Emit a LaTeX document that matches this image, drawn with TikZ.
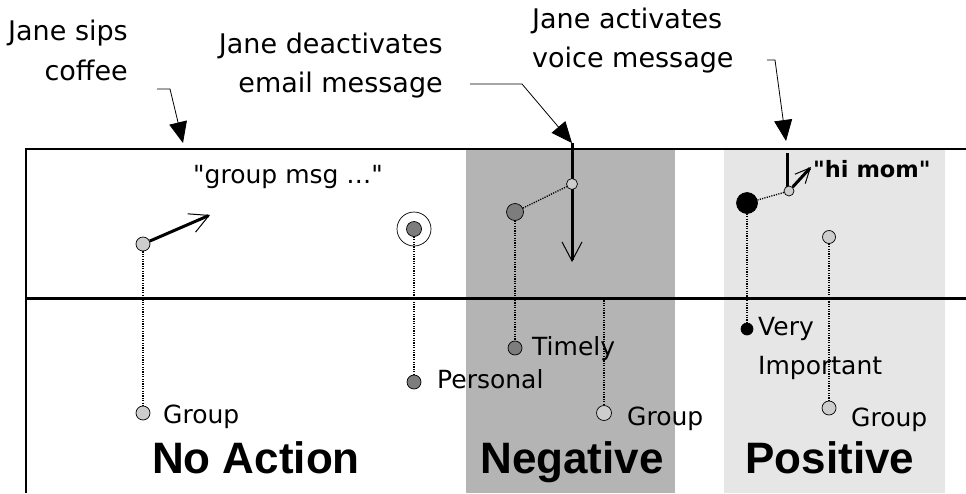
\documentclass[tikz,border=0pt]{standalone}
\usepackage{fontspec}
\setmainfont{DejaVu Sans}[Ligatures=TeXOff]
\setsansfont{Liberation Sans}
\usetikzlibrary{arrows.meta}
\definecolor{negbg}{RGB}{180,180,180}
\definecolor{posbg}{RGB}{230,230,230}
\definecolor{lightc}{RGB}{205,205,205}
\definecolor{darkc}{RGB}{125,125,125}
\begin{document}
\begin{tikzpicture}[x=1pt,y=-1pt,
  dot/.style={circle,draw=black,line width=0.7pt,inner sep=0pt,minimum size=#1},
  dotline/.style={line width=1.3pt,dash pattern=on 1.2pt off 1.2pt},
  thickarrow/.style={line width=3pt,-{Straight Barb[length=19pt,width=20pt,line width=1pt]}},
  smallarrow/.style={line width=3pt,-{Straight Barb[length=15pt,width=14pt,line width=1pt]}},
  callout/.style={line width=0.8pt,-{Triangle[length=21pt,width=18pt]}},
  lbl/.style={inner sep=0pt,font=\fontsize{25}{30}\selectfont},
  ann/.style={inner sep=0pt,font=\fontsize{27}{32}\selectfont},
  big/.style={inner sep=0pt,anchor=base,font=\sffamily\bfseries\fontsize{44}{50}\selectfont}]
\useasboundingbox (0,0) rectangle (966,493);
% backgrounds
\fill[negbg] (466,150) rectangle (675,493);
\fill[posbg] (724,150) rectangle (945,493);
\draw[line width=1.5pt] (26,493) -- (26,149) -- (966,149);
\draw[line width=3pt] (26,298) -- (966,298);

% annotations
\node[ann,anchor=base east] (t1a) at (128,40) {Jane sips};
\node[ann,anchor=base east] (t1b) at (128,80) {coffee};
\node[ann,anchor=base east] (t2a) at (443,53) {Jane deactivates};
\node[ann,anchor=base east] (t2b) at (443,92) {email message};
\node[ann,anchor=base west] (t3a) at (532,28) {Jane activates};
\node[ann,anchor=base west] (t3b) at (532,67) {voice message};

\coordinate (c1s) at (157,89);
\coordinate (c1m) at (170,89);
\coordinate (c1e) at (183,143);
\draw[callout] (c1s) -- (c1m) -- (c1e);
\coordinate (c2s) at (470,84);
\coordinate (c2m) at (522,84);
\coordinate (c2e) at (572,143);
\draw[callout] (c2s) -- (c2m) -- (c2e);
\coordinate (c3s) at (767,60);
\coordinate (c3m) at (775,60);
\coordinate (c3e) at (786,141);
\draw[callout] (c3s) -- (c3m) -- (c3e);

% No Action
\node[dot=14pt,fill=lightc] (a) at (143,244) {};
\node[dot=14pt,fill=lightc] (ag) at (143,413) {};
\draw[dotline] (a) -- (ag);
\coordinate (atip) at (210,215);
\draw[thickarrow] (a) -- (atip);
\node[lbl,anchor=base west] (gmsg) at (193,183) {"group msg \dots"};
\node[lbl,anchor=base west] (lg1) at (163,423) {Group};

\node[dot=34pt,fill=white] (pring) at (414,229) {};
\node[dot=15pt,fill=darkc] (p) at (414,229) {};
\node[dot=14pt,fill=darkc] (pg) at (414,382) {};
\draw[dotline] (p) -- (pg);
\node[lbl,anchor=base west] (lpers) at (437,388) {Personal};

% Negative
\coordinate (ntop) at (572,143);
\coordinate (ntip) at (572,262);
\draw[thickarrow] (ntop) -- (ntip);
\node[dot=17pt,fill=darkc] (n) at (515,212) {};
\node[dot=11pt,fill=lightc] (ns) at (572,184) {};
\draw[dotline] (n) -- (ns);
\node[dot=14pt,fill=darkc] (nt) at (515,348) {};
\draw[dotline] (n) -- (nt);
\node[lbl,anchor=base west] (ltim) at (532,355) {Timely};
\coordinate (ng0) at (604,298);
\node[dot=15pt,fill=lightc] (ng) at (604,413) {};
\draw[dotline] (ng0) -- (ng);
\node[lbl,anchor=base west] (lg2) at (627,425) {Group};

% Positive
\coordinate (vtop) at (787,153);
\coordinate (vbot) at (787,188);
\draw[line width=3pt] (vtop) -- (vbot);
\node[dot=21pt,fill=black] (v) at (747,203) {};
\node[dot=10pt,fill=lightc] (vs) at (789,191) {};
\draw[dotline] (v) -- (vs);
\coordinate (vtip) at (811,167);
\draw[smallarrow] (vs) -- (vtip);
\node[inner sep=0pt,anchor=base west,font=\bfseries\fontsize{22.5}{27}\selectfont] (hm) at (813,177) {"hi mom"};
\node[dot=12pt,fill=black] (vi) at (747,329) {};
\draw[dotline] (v) -- (vi);
\node[lbl,anchor=base west] (lvery) at (758,335) {Very};
\node[lbl,anchor=base west] (limp) at (758,374) {Important};
\node[dot=13pt,fill=lightc] (pg1) at (829,237) {};
\node[dot=14pt,fill=lightc] (pg2) at (829,408) {};
\draw[dotline] (pg1) -- (pg2);
\node[lbl,anchor=base west] (lg3) at (851,426) {Group};

% big labels
\node[big] (bna) at (256,473) {No Action};
\node[big] (bneg) at (572,473) {Negative};
\node[big] (bpos) at (830,473) {Positive};
\end{tikzpicture}
\end{document}
